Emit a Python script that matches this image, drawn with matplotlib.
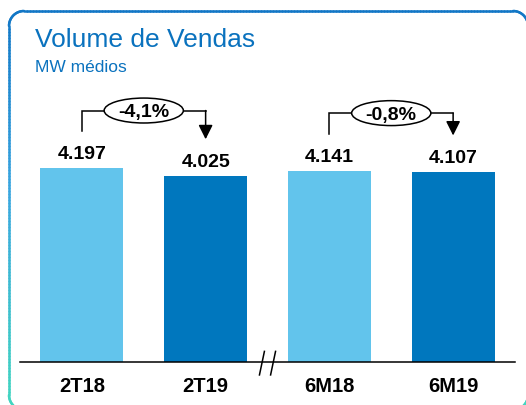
import numpy as np
import matplotlib
matplotlib.use('Agg')
from matplotlib import pyplot as plt
from matplotlib.patches import Ellipse
from matplotlib.collections import LineCollection
from matplotlib.colors import LinearSegmentedColormap

plt.rcParams['font.family'] = ['Liberation Sans', 'DejaVu Sans']

# dados
categorias = ['2T18', '2T19', '6M18', '6M19']
valores = [4197, 4025, 4141, 4107]
cores = ['#62C4EC', '#0077BE', '#62C4EC', '#0077BE']
pares = [(0, 1), (2, 3)]
variacoes = ['-4,1%', '-0,8%']

W, H = 526, 405
fig = plt.figure(figsize=(W / 100, H / 100), dpi=100)

# moldura e titulo (coordenadas em pixels)
bg = fig.add_axes([0, 0, 1, 1], zorder=0)
bg.set_xlim(0, W)
bg.set_ylim(H, 0)
bg.axis('off')


def rounded_rect(x0, y0, x1, y1, r, n=20):
	pts = []
	t = np.linspace(0, np.pi / 2, n)
	# canto superior esquerdo
	pts += list(zip(x0 + r - r * np.cos(t), y0 + r - r * np.sin(t)))
	# canto superior direito
	pts += list(zip(x1 - r + r * np.sin(t), y0 + r - r * np.cos(t)))
	# canto inferior direito
	pts += list(zip(x1 - r + r * np.cos(t), y1 - r + r * np.sin(t)))
	# canto inferior esquerdo
	pts += list(zip(x0 + r - r * np.sin(t), y1 - r + r * np.cos(t)))
	pts.append(pts[0])
	return np.array(pts)


pts = rounded_rect(9, 11, 528, 410, 15)
# densificar para o gradiente
dense = [pts[0]]
for a, b in zip(pts[:-1], pts[1:]):
	k = max(int(np.hypot(*(b - a)) / 3), 1)
	for s in np.linspace(0, 1, k + 1)[1:]:
		dense.append(a + (b - a) * s)
dense = np.array(dense)
segs = np.stack([dense[:-1], dense[1:]], axis=1)
ymid = (segs[:, 0, 1] + segs[:, 1, 1]) / 2
cmap = LinearSegmentedColormap.from_list('borda', [(0, '#1277C6'), (0.45, '#3AA6E0'), (1, '#42D6C0')])
lc = LineCollection(segs, colors=cmap((ymid - 11) / (405 - 11)), linewidths=1.8, capstyle='round')
bg.add_collection(lc)

bg.text(35, 47, 'Volume de Vendas', fontsize=19, color='#0A72BE', va='baseline', ha='left')
bg.text(35, 72, 'MW médios', fontsize=12.5, color='#0A72BE', va='baseline', ha='left')

# grafico de barras
ax = fig.add_axes([20 / W, 43 / H, 495 / W, 277 / H], zorder=1)
ax.patch.set_alpha(0)
x = np.arange(len(categorias))
ax.bar(x, valores, width=0.67, color=cores, zorder=2)
ax.set_xlim(-0.5, 3.5)
ax.set_ylim(0, 6000)
for s in ['top', 'right', 'left']:
	ax.spines[s].set_visible(False)
ax.spines['bottom'].set_linewidth(1.1)
ax.spines['bottom'].set_color('black')
ax.set_yticks([])
ax.set_xticks(x, categorias, fontsize=14.5, fontweight='bold')
ax.tick_params(axis='x', length=0, pad=10.5)

for xi, v in zip(x, valores):
	ax.annotate('{:,}'.format(v).replace(',', '.'), (xi, v), xytext=(0, 6.5),
				textcoords='offset points', ha='center', va='baseline',
				fontsize=14, fontweight='bold')

# setas de variacao
for (a, b), txt in zip(pares, variacoes):
	hy = max(valores[a], valores[b]) + 1250
	ax.plot([x[a], x[a], x[b]], [valores[a] + 800, hy, hy], color='black', lw=1.1,
			clip_on=False, zorder=3, solid_joinstyle='miter')
	ax.annotate('', xy=(x[b], valores[b] + 800), xytext=(x[b], hy),
				arrowprops=dict(arrowstyle='-|>,head_length=0.4,head_width=0.2',
								mutation_scale=21.6, color='black', lw=1.1,
								shrinkA=0, shrinkB=0), zorder=3)
	xc = (x[a] + x[b]) / 2
	ax.add_patch(Ellipse((xc, hy), width=0.64, height=540, facecolor='white',
						 edgecolor='black', lw=1.1, clip_on=False, zorder=4))
	ax.text(xc, hy, txt, ha='center', va='center_baseline', fontsize=14,
			fontweight='bold', zorder=5)

# quebra de eixo //
for dx in [-0.045, 0.045]:
	ax.plot([1.5 + dx + 0.02, 1.5 + dx - 0.02], [230, -280], color='black', lw=1.1,
			clip_on=False, zorder=3)

fig.savefig('out.png', dpi=100)
